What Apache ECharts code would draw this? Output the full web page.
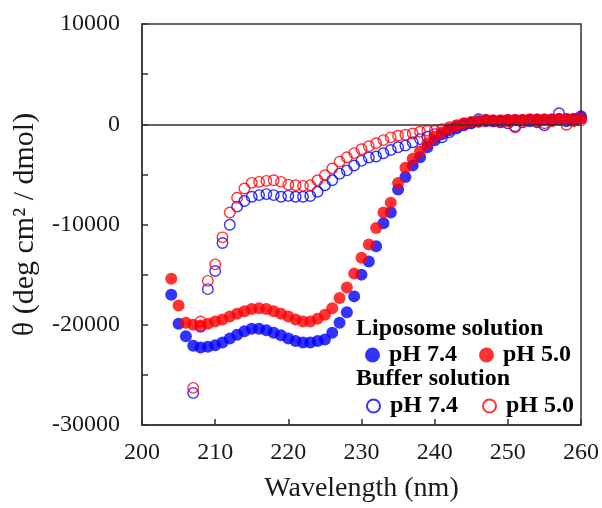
<!DOCTYPE html>
<html>
<head>
<meta charset="utf-8">
<script src="https://cdn.jsdelivr.net/npm/echarts@6/dist/echarts.min.js"></script>
<style>
html,body{margin:0;padding:0;background:#fff;}
#chart{width:602px;height:508px;}
</style>
</head>
<body>
<div id="chart"></div>
<script>
const xTicks = [200, 210, 220, 230, 240, 250, 260];
const yTickLabels = [10000, 0, -10000, -20000, -30000];

const wavelengthLiposome = [204,205,206,207,208,209,210,211,212,213,214,215,216,217,218,219,220,221,222,223,224,225,226,227,228,229,230,231,232,233,234,235,236,237,238,239,240,241,242,243,244,245,246,247,248,249,250,251,252,253,254,255,256,257,258,259,260];
const liposomePH74 = [-17000,-19900,-21150,-22100,-22270,-22200,-22040,-21780,-21380,-20990,-20650,-20400,-20400,-20560,-20790,-21050,-21380,-21610,-21780,-21780,-21610,-21480,-20790,-19800,-18750,-17170,-15000,-13700,-12170,-9870,-8810,-6510,-5260,-4110,-3290,-2300,-1600,-1000,-600,-300,0,150,250,300,350,350,400,400,400,450,450,450,450,500,500,500,800];
const liposomePH50 = [-15400,-18090,-19800,-20000,-20070,-19900,-19670,-19470,-19180,-18910,-18650,-18420,-18360,-18420,-18650,-18910,-19180,-19470,-19670,-19670,-19400,-19010,-18360,-17330,-16290,-14900,-13320,-12000,-10360,-8810,-7830,-5850,-4340,-3450,-2700,-1900,-1250,-800,-450,-150,50,200,300,350,400,400,450,450,450,500,500,500,500,550,550,550,600];

const wavelengthBuffer = [207,208,209,210,211,212,213,214,215,216,217,218,219,220,221,222,223,224,225,226,227,228,229,230,231,232,233,234,235,236,237,238,239,240,241,242,243,244,245,246,247,248,249,250,251,252,253,254,255,256,257,258,259,260];
const bufferPH74 = [-26800,-20200,-16450,-14640,-11840,-10030,-8220,-7660,-7230,-7070,-6970,-7070,-7230,-7140,-7230,-7230,-7160,-6740,-6080,-5590,-4930,-4600,-4110,-3650,-3320,-3220,-2890,-2570,-2300,-2130,-1800,-1480,-1250,-990,-1300,-800,-400,-100,100,500,400,300,200,100,-200,200,300,200,-100,400,1100,300,500,600];
const bufferPH50 = [-26300,-19670,-15620,-13980,-11280,-8810,-7330,-6410,-5850,-5750,-5650,-5590,-5750,-6020,-6080,-6150,-6080,-5590,-5090,-4400,-3730,-3290,-2880,-2500,-2200,-1900,-1580,-1310,-1150,-1050,-920,-750,-650,-650,-500,-300,-100,100,200,300,450,300,200,300,-300,200,400,300,100,300,500,-50,300,400];

const BLUE = '#0000ff';
const RED = '#ff0000';
const FONT = '"Liberation Serif","Times New Roman",serif';

function pairs(xs, ys) { return xs.map((x, i) => [x, ys[i]]); }

const chart = echarts.init(document.getElementById('chart'), null, {renderer: 'canvas'});

const openStyle = c => ({color: 'rgba(0,0,0,0)', borderColor: c, borderWidth: 1.4});

chart.setOption({
  animation: false,
  backgroundColor: '#fff',
  grid: {left: 142, right: 19, top: 24, bottom: 77, show: true, borderColor: '#333', borderWidth: 1.5, backgroundColor: 'transparent'},
  xAxis: {
    type: 'value', min: xTicks[0], max: xTicks[xTicks.length - 1], interval: 10,
    axisLine: {onZero: false, lineStyle: {color: '#333', width: 1.5}},
    axisTick: {inside: true, length: 6, lineStyle: {color: '#333', width: 1.5}},
    axisLabel: {color: '#1a1a1a', fontFamily: FONT, fontSize: 24, margin: 16},
    splitLine: {show: false},
    name: 'Wavelength (nm)', nameLocation: 'middle', nameGap: 50,
    nameTextStyle: {color: '#1a1a1a', fontFamily: FONT, fontSize: 28}
  },
  yAxis: {
    type: 'value', min: yTickLabels[yTickLabels.length - 1], max: yTickLabels[0], interval: 5000,
    axisLine: {lineStyle: {color: '#333', width: 1.5}},
    axisTick: {inside: true, length: 6, lineStyle: {color: '#333', width: 1.5}},
    axisLabel: {color: '#1a1a1a', fontFamily: FONT, fontSize: 24, margin: 22,
      formatter: v => (yTickLabels.indexOf(v) >= 0 ? String(v) : '')},
    splitLine: {show: false},
    name: 'θ (deg cm² / dmol)', nameLocation: 'middle', nameGap: 102,
    nameTextStyle: {color: '#1a1a1a', fontFamily: FONT, fontSize: 30}
  },
  legend: [
    {
      left: 365, top: 343, padding: 0, itemGap: 22, itemWidth: 15, itemHeight: 15,
      icon: 'circle',
      data: [
        {name: 'Liposome pH 7.4', itemStyle: {color: BLUE}},
        {name: 'Liposome pH 5.0', itemStyle: {color: RED}}
      ],
      formatter: n => n.replace('Liposome ', ''),
      textStyle: {color: '#000', fontFamily: FONT, fontSize: 24, fontWeight: 'bold', lineHeight: 24, padding: [0, 0, 0, 4]},
      selectedMode: false
    },
    {
      left: 366, top: 394, padding: 0, itemGap: 24, itemWidth: 13, itemHeight: 13,
      icon: 'circle',
      data: [
        {name: 'Buffer pH 7.4', itemStyle: {color: 'rgba(0,0,0,0)', borderColor: BLUE, borderWidth: 2}},
        {name: 'Buffer pH 5.0', itemStyle: {color: 'rgba(0,0,0,0)', borderColor: RED, borderWidth: 2}}
      ],
      formatter: n => n.replace('Buffer ', ''),
      textStyle: {color: '#000', fontFamily: FONT, fontSize: 24, fontWeight: 'bold', lineHeight: 24, padding: [0, 0, 0, 5]},
      selectedMode: false
    }
  ],
  graphic: [
    {type: 'text', left: 356, top: 317, silent: true,
     style: {text: 'Liposome solution', font: 'bold 24px ' + FONT, fill: '#000'}},
    {type: 'text', left: 356, top: 367, silent: true,
     style: {text: 'Buffer solution', font: 'bold 24px ' + FONT, fill: '#000'}}
  ],
  series: [
    {
      name: 'Buffer pH 7.4', type: 'scatter', symbol: 'circle', symbolSize: 10.5,
      data: pairs(wavelengthBuffer, bufferPH74), itemStyle: openStyle(BLUE),
      markLine: {silent: true, symbol: 'none', label: {show: false},
        lineStyle: {color: '#333', width: 1.5, type: 'solid'}, data: [{yAxis: 0}]}
    },
    {
      name: 'Buffer pH 5.0', type: 'scatter', symbol: 'circle', symbolSize: 10.5,
      data: pairs(wavelengthBuffer, bufferPH50), itemStyle: openStyle(RED)
    },
    {
      name: 'Liposome pH 7.4', type: 'scatter', symbol: 'circle', symbolSize: 12,
      data: pairs(wavelengthLiposome, liposomePH74), itemStyle: {color: BLUE}
    },
    {
      name: 'Liposome pH 5.0', type: 'scatter', symbol: 'circle', symbolSize: 12,
      data: pairs(wavelengthLiposome, liposomePH50), itemStyle: {color: RED}
    }
  ]
});
</script>
</body>
</html>
